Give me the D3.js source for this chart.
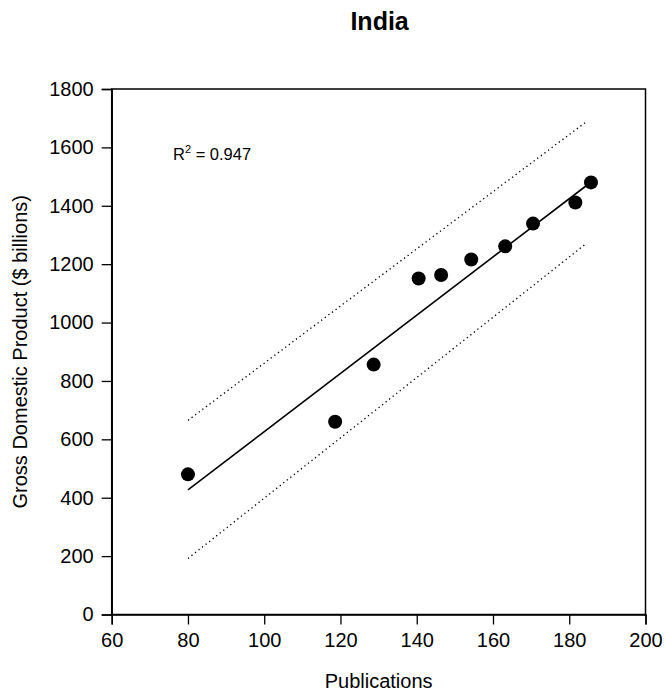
<!DOCTYPE html>
<html>
<head>
<meta charset="utf-8">
<script src="https://cdn.jsdelivr.net/npm/d3@7"></script>
<style>
  html, body { margin: 0; padding: 0; background: #fff; }
  svg text { font-family: "Liberation Sans", Arial, sans-serif; fill: #000; }
</style>
</head>
<body>
<svg id="chart" width="666" height="691"></svg>
<script>
// ---- data ----
const publications = [80, 118.6, 128.7, 140.5, 146.4, 154.3, 163.2, 170.5, 181.6, 185.7];
const gdp = [480, 660, 856, 1151, 1163, 1216, 1261, 1339, 1411, 1480];
const fitLine = [[80, 427], [186, 1484]];
const upperBand = [[80, 665], [184.5, 1688]];
const lowerBand = [[80, 192], [184.5, 1271]];
const xTicks = [60, 80, 100, 120, 140, 160, 180, 200];
const yTicks = [0, 200, 400, 600, 800, 1000, 1200, 1400, 1600, 1800];
const title = "India";
const xLabel = "Publications";
const yLabel = "Gross Domestic Product ($ billions)";
const r2Text = "0.947";

// ---- layout ----
const svg = d3.select("#chart");
const plotL = 111.7, plotR = 645.5, plotT = 89, plotB = 614.5;
const x = d3.scaleLinear().domain([60, 200]).range([plotL, plotR]);
const y = d3.scaleLinear().domain([0, 1800]).range([plotB, plotT]);

// frame
svg.append("rect")
  .attr("x", plotL).attr("y", plotT)
  .attr("width", plotR - plotL).attr("height", plotB - plotT)
  .attr("fill", "none").attr("stroke", "#000").attr("stroke-width", 1.5);

// axes
const xAxis = d3.axisBottom(x).tickValues(xTicks).tickSize(10).tickPadding(8).tickFormat(d3.format("d"));
const gx = svg.append("g").attr("transform", `translate(0,${plotB})`).call(xAxis);
const yAxis = d3.axisLeft(y).tickValues(yTicks).tickSize(10).tickPadding(8).tickFormat(d3.format("d"));
const gy = svg.append("g").attr("transform", `translate(${plotL},0)`).call(yAxis);
[gx, gy].forEach(g => {
  g.select(".domain").attr("stroke", "#000").attr("stroke-width", 1.5);
  g.selectAll(".tick line").attr("stroke", "#000").attr("stroke-width", 1.3);
  g.selectAll(".tick text").attr("font-size", 20).attr("font-family", "Liberation Sans, Arial, sans-serif").attr("fill", "#000");
});

// line generator
const line = d3.line().x(d => x(d[0])).y(d => y(d[1]));

// prediction bands (dotted)
[upperBand, lowerBand].forEach(b => {
  svg.append("path").attr("d", line(b))
    .attr("fill", "none").attr("stroke", "#000").attr("stroke-width", 1.3)
    .attr("stroke-dasharray", "1.3,3.2");
});

// regression line
svg.append("path").attr("d", line(fitLine))
  .attr("fill", "none").attr("stroke", "#000").attr("stroke-width", 1.6);

// points
svg.append("g").selectAll("circle")
  .data(publications.map((p, i) => [p, gdp[i]]))
  .join("circle")
  .attr("cx", d => x(d[0])).attr("cy", d => y(d[1]))
  .attr("r", 7).attr("fill", "#000");

// title
svg.append("text").attr("x", (plotL + plotR) / 2 + 1).attr("y", 30)
  .attr("text-anchor", "middle").attr("font-size", 25).attr("font-weight", "bold")
  .text(title);

// x label
svg.append("text").attr("x", (plotL + plotR) / 2).attr("y", 688)
  .attr("text-anchor", "middle").attr("font-size", 20)
  .text(xLabel);

// y label
svg.append("text")
  .attr("transform", `translate(27,${(plotT + plotB) / 2}) rotate(-90)`)
  .attr("text-anchor", "middle").attr("font-size", 20)
  .text(yLabel);

// R^2 annotation
const rt = svg.append("text").attr("x", 173).attr("y", 160).attr("font-size", 16.5);
rt.append("tspan").text("R");
rt.append("tspan").attr("font-size", 11).attr("dy", -7).text("2");
rt.append("tspan").attr("dy", 7).text(" = " + r2Text);
</script>
</body>
</html>
